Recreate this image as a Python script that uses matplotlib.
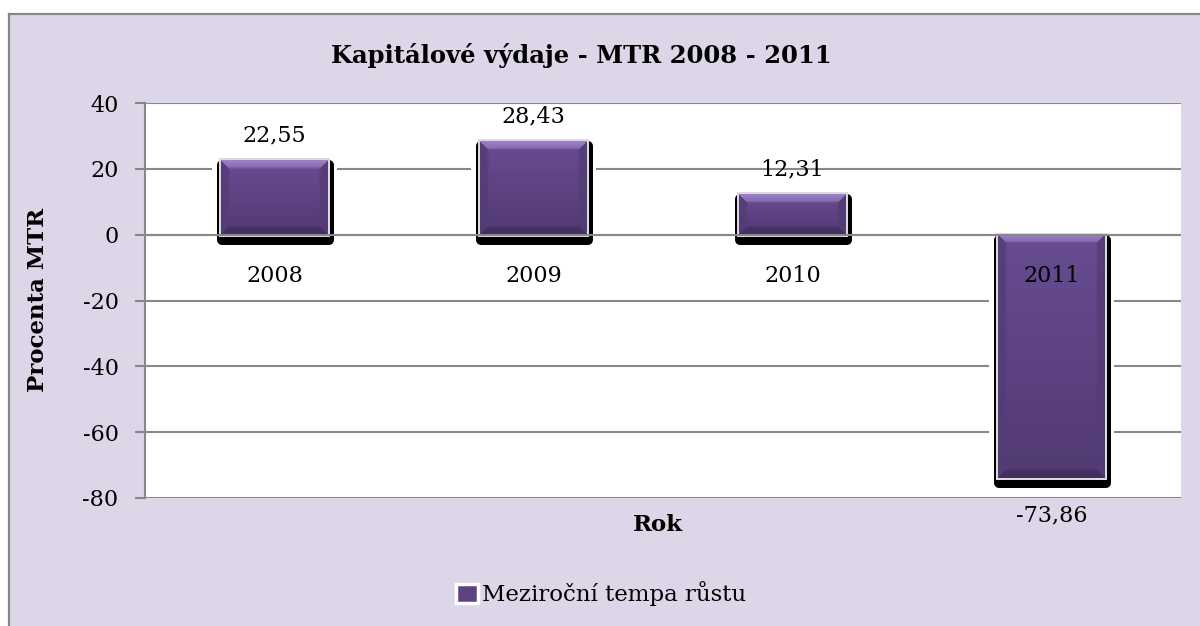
import numpy as np
import matplotlib
matplotlib.use("Agg")
import matplotlib.pyplot as plt
import matplotlib.patches as mpatches
from matplotlib.transforms import ScaledTranslation

# ---- data ----
categories = ["2008", "2009", "2010", "2011"]
values = [22.55, 28.43, 12.31, -73.86]
value_labels = ["22,55", "28,43", "12,31", "-73,86"]
yticks = [-80, -60, -40, -20, 0, 20, 40]
title = "Kapitálové výdaje - MTR 2008 - 2011"
ylabel = "Procenta MTR"
xlabel = "Rok"
legend_label = "Meziroční tempa růstu"

BG = "#DDD6E8"
GRID = "#888888"
FONT = "DejaVu Serif"
DPI = 100
W, H = 1200, 626
FS = 16

fig = plt.figure(figsize=(W / DPI, H / DPI), dpi=DPI)
fig.patch.set_facecolor(BG)

# outer border (top & left visible)
fig.add_artist(plt.Line2D([8.5 / W, 8.5 / W], [0, 1 - 13.5 / H], transform=fig.transFigure,
                          color=GRID, lw=1.6))
fig.add_artist(plt.Line2D([8.5 / W, 1], [1 - 13.5 / H, 1 - 13.5 / H], transform=fig.transFigure,
                          color=GRID, lw=1.6))
fig.add_artist(mpatches.Rectangle((0, 1 - 13 / H), 1, 13 / H, transform=fig.transFigure,
                                  facecolor="white", edgecolor="none", zorder=-1))
fig.add_artist(mpatches.Rectangle((0, 0), 8 / W, 1, transform=fig.transFigure,
                                  facecolor="white", edgecolor="none", zorder=-1))

left, right, top, bottom = 145, 1181, 103, 498
ax = fig.add_axes([left / W, 1 - bottom / H, (right - left) / W, (bottom - top) / H])
ax.set_facecolor("white")
ax.set_xlim(-0.5, len(categories) - 0.5)
ax.set_ylim(-80, 40)
ax.set_yticks(yticks)
ax.set_yticklabels([str(t) for t in yticks], fontfamily=FONT, fontsize=FS)
ax.set_xticks([])
for s in ["top", "right", "bottom"]:
    ax.spines[s].set_visible(False)
ax.spines["left"].set_color(GRID)
ax.spines["left"].set_linewidth(1.5)
ax.tick_params(axis="y", length=7, width=1.5, color=GRID, pad=12)
ax.yaxis.grid(True, color=GRID, lw=1.5, zorder=0)
ax.set_axisbelow(True)

x = np.arange(len(categories))
bw = 0.41
pt = 72.0 / DPI  # points per pixel

bars = ax.bar(x, values, width=bw, color="#5E4282", edgecolor="none", zorder=5)

def px_shift(dx, dy):
    return ax.transData + ScaledTranslation(dx / DPI, dy / DPI, fig.dpi_scale_trans)

for b in bars:
    x0, y0, w, h = b.get_x(), b.get_y(), b.get_width(), b.get_height()
    ax.add_patch(mpatches.Rectangle((x0, y0), w, h, facecolor="white", edgecolor="white",
                                    lw=18 * pt, joinstyle="round", zorder=2))
    ax.add_patch(mpatches.Rectangle((x0, y0), w, h, facecolor="black", edgecolor="black",
                                    lw=10 * pt, joinstyle="round", transform=px_shift(1, -5),
                                    zorder=3))
    ax.add_patch(mpatches.Rectangle((x0, y0), w, h, facecolor="#E8E8EC", edgecolor="#DADADF",
                                    lw=4 * pt, zorder=4))
    (dx0, dy0), (dx1, dy1) = ax.transData.transform([(x0, y0), (x0 + w, y0 + h)])
    pw = int(round(abs(dx1 - dx0)))
    ph = int(round(abs(dy1 - dy0)))
    yy, xx = np.mgrid[0:ph, 0:pw].astype(float)
    t = yy / max(ph - 1, 1)
    top_c = np.array([104, 76, 146]) / 255
    bot_c = np.array([82, 58, 114]) / 255
    img = (top_c[None, None, :] * (1 - t[..., None]) + bot_c[None, None, :] * t[..., None])
    bev = 9.0
    dtop = yy
    dbot = ph - 1 - yy
    dl = xx
    dr = pw - 1 - xx
    dmin = np.minimum(np.minimum(dtop, dbot), np.minimum(dl, dr))
    inb = dmin < bev
    fade = np.clip((bev - dmin) / 3.0, 0, 1)
    light = np.array([156, 128, 198]) / 255
    dark = np.array([66, 46, 94]) / 255
    side = np.array([84, 60, 118]) / 255
    region_top = inb & (dtop == dmin)
    region_bot = inb & (dbot == dmin) & ~region_top
    region_side = inb & ~region_top & ~region_bot
    topmix = np.clip(1 - dtop / bev, 0, 1) * 0.5 + 0.5
    for reg, col, k in ((region_top, light, topmix), (region_bot, dark, 0.85),
                        (region_side, side, 0.85)):
        f = (fade * reg * k)[..., None]
        img = img * (1 - f) + col[None, None, :] * f
    ytop = max(y0, y0 + h)
    ybot = min(y0, y0 + h)
    ax.imshow(img, extent=(x0, x0 + w, ybot, ytop), origin="upper", aspect="auto",
              interpolation="bilinear", zorder=6)

ax.set_xlim(-0.5, len(categories) - 0.5)
ax.set_ylim(-80, 40)

ax.axhline(0, color=GRID, lw=1.5, zorder=8)

for xi, c in zip(x, categories):
    ax.annotate(c, (xi, 0), xytext=(0, -41 * pt), textcoords="offset points",
                ha="center", va="center", fontfamily=FONT, fontsize=FS, zorder=9)

for xi, v, lab in zip(x, values, value_labels):
    off = 25 if v >= 0 else -38
    ax.annotate(lab, (xi, v), xytext=(0, off * pt), textcoords="offset points",
                ha="center", va="center", fontfamily=FONT, fontsize=FS, zorder=9)

fig.text(581 / W, 1 - 55 / H, title, ha="center", va="center", fontfamily=FONT,
         fontweight="bold", fontsize=17.5)
fig.text(38 / W, 1 - 300 / H, ylabel, ha="center", va="center", rotation=90,
         fontfamily=FONT, fontweight="bold", fontsize=16.5)
fig.text(658 / W, 1 - 525 / H, xlabel, ha="center", va="center",
         fontfamily=FONT, fontweight="bold", fontsize=16.5)

handle = mpatches.Patch(facecolor="#5E4282", edgecolor="white", lw=2.5)
leg = fig.legend([handle], [legend_label], loc="center", bbox_to_anchor=(601 / W, 1 - 594 / H),
                 frameon=False, prop={"family": FONT, "size": 16.5}, handlelength=0.95,
                 handleheight=0.95, handletextpad=0.2)

fig.savefig("out.png", dpi=DPI, facecolor=fig.get_facecolor())
